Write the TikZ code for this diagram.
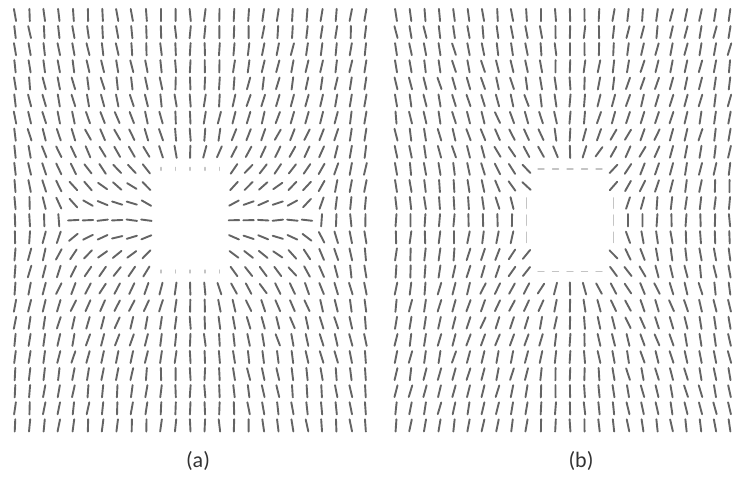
\documentclass[tikz,border=0pt]{standalone}
\usepackage{fontspec}
\setsansfont{Carlito}
\definecolor{rodgrey}{HTML}{646464}
\definecolor{fadegrey}{HTML}{C4C4C4}
\definecolor{inkgrey}{HTML}{333333}
\tikzset{
  rod/.style={rodgrey, line width=1.9pt, line cap=round},
  faintrod/.style={fadegrey, line width=1.6pt, line cap=round},
  caption/.style={font=\sffamily\fontsize{22}{26}\selectfont, text=inkgrey}
}

\begin{document}
\begin{tikzpicture}[x=1pt, y=-1pt]
  \useasboundingbox (0,0) rectangle (742,481);
  \pgfmathsetseed{11}

  % ── (a) radial anchoring: +1 hedgehog, two -1/2 lines at the sides ──
  \begin{scope}[xshift=15pt, yshift=-15pt, x=14.6pt, y=-17.1pt]
    \foreach \i in {0,...,24} {
      \foreach \j in {0,...,24} {
        \pgfmathtruncatemacro{\u}{\i-12}
        \pgfmathtruncatemacro{\v}{12-\j}
        \pgfmathtruncatemacro{\hole}{and(abs(\u)<3, abs(\v)<3)}
        \pgfmathtruncatemacro{\ring}{and(abs(\u)<3, abs(\v)==3)}
        \ifnum\hole=0
          \ifnum\ring=1
            \draw[faintrod] (\i,\j) ++(0,-0.08) -- ++(0,0.16);
          \else
            \pgfmathsetmacro{\ang}{90 + atan2(\v,\u)
              - 0.5*(atan2(\v,\u+8.5) + atan2(\v,\u-8.5)) + 7*rand}
            \draw[rod] (\i,\j) ++(180-\ang:0.36) -- ++(-\ang:0.72);
          \fi
        \fi
      }
    }
  \end{scope}

  % ── (b) planar anchoring: quadrupolar bend, far field vertical ──
  \begin{scope}[xshift=396pt, yshift=-15pt, x=14.5pt, y=-17.1pt]
    \foreach \i in {0,...,23} {
      \foreach \j in {0,...,24} {
        \pgfmathtruncatemacro{\u}{\i-12}
        \pgfmathtruncatemacro{\v}{12-\j}
        \pgfmathtruncatemacro{\hole}{and(abs(\u)<3, abs(\v)<3)}
        \pgfmathtruncatemacro{\ring}{and(abs(\u)<3, abs(\v)==3)}
        \pgfmathtruncatemacro{\side}{and(abs(\u)==3, abs(\v)<2)}
        \ifnum\hole=0
          \ifnum\ring=1
            \draw[faintrod] (\i,\j) ++(-0.2,0) -- ++(0.4,0);
          \else\ifnum\side=1
            \draw[faintrod] (\i,\j) ++(0,-0.3) -- ++(0,0.6);
          \else
            \pgfmathsetmacro{\r}{sqrt(\u*\u+\v*\v)}
            \pgfmathsetmacro{\ang}{90 - 190/\r*sin(2*atan2(\v,\u)) + 7*rand}
            \draw[rod] (\i,\j) ++(180-\ang:0.36) -- ++(-\ang:0.72);
          \fi\fi
        \fi
      }
    }
  \end{scope}

  % ── captions ──
  \node[caption] (capa) at (198,461) {(a)};
  \node[caption] (capb) at (581,461) {(b)};

\end{tikzpicture}
\end{document}
